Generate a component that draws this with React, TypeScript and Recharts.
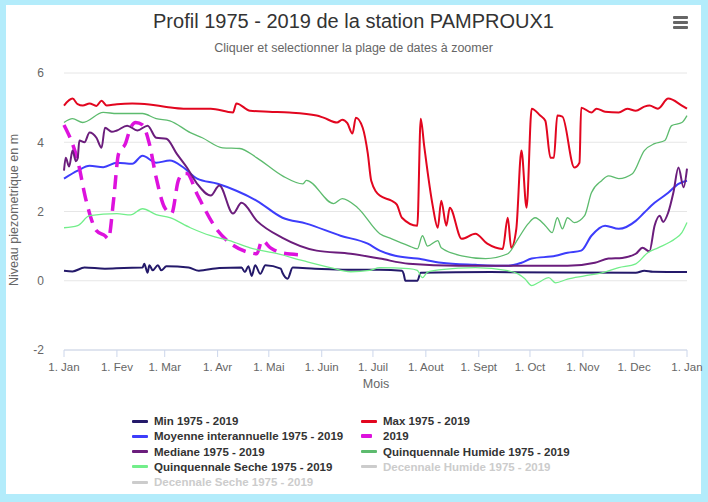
import React from 'react';
import { LineChart, Line, XAxis, YAxis, CartesianGrid } from 'recharts';

// jours depuis le 1er janvier
const monthTicks = [0, 31, 59, 90, 120, 151, 181, 212, 243, 273, 304, 334, 365];
const monthLabels = ['1. Jan', '1. Fev', '1. Mar', '1. Avr', '1. Mai', '1. Juin', '1. Juil', '1. Aout', '1. Sept', '1. Oct', '1. Nov', '1. Dec', '1. Jan'];
const levelTicks = [-2, 0, 2, 4, 6];

const minPts: [number, number][] = [
  [0, 0.29], [5, 0.27], [12, 0.38], [24, 0.35], [35, 0.37], [46, 0.38], [47, 0.49], [49, 0.23], [50, 0.45], [52, 0.3],
  [55, 0.45], [57, 0.3], [60, 0.42], [73, 0.38], [79, 0.29], [91, 0.37], [104, 0.38], [106, 0.25], [108, 0.42], [110, 0.14],
  [112, 0.45], [115, 0.2], [118, 0.45], [127, 0.35], [128, 0.23], [131, 0.06], [134, 0.38], [147, 0.35], [166, 0.32], [185, 0.32],
  [198, 0.29], [199, 0.2], [200, 0.0], [207, 0.0], [209, 0.23], [250, 0.25], [335, 0.23], [340, 0.29], [345, 0.26], [365, 0.25],
];

const maxPts: [number, number][] = [
  [0, 5.06], [5, 5.26], [8, 5.1], [11, 5.06], [15, 5.12], [19, 5.05], [22, 5.2], [25, 5.06], [31, 5.1], [40, 5.12],
  [50, 5.09], [60, 5.02], [70, 4.97], [86, 4.97], [99, 4.86], [101, 5.12], [109, 4.91], [120, 4.88], [132, 4.86], [148, 4.77],
  [152, 4.71], [160, 4.57], [163, 4.65], [166, 4.55], [169, 4.25], [171, 4.71], [175, 4.42], [178, 3.67], [180, 2.89], [185, 2.46],
  [192, 2.31], [195, 2.2], [198, 1.82], [207, 1.59], [209, 4.68], [211, 3.9], [216, 2.17], [219, 1.53], [221, 2.31], [224, 1.59],
  [226, 2.11], [233, 1.21], [241, 1.36], [248, 1.07], [257, 0.92], [260, 1.82], [262, 0.95], [265, 1.5], [268, 3.76], [271, 2.11],
  [274, 4.97], [279, 4.77], [282, 4.62], [285, 3.55], [287, 3.55], [289, 4.77], [292, 4.74], [299, 3.27], [302, 3.41], [303, 5.0],
  [309, 4.86], [312, 4.97], [317, 4.88], [325, 4.86], [330, 4.97], [335, 4.91], [340, 5.03], [343, 5.06], [348, 4.97], [354, 5.26],
  [362, 5.06], [365, 4.97],
];

const moyennePts: [number, number][] = [
  [0, 2.95], [8, 3.18], [15, 3.32], [23, 3.28], [31, 3.41], [40, 3.38], [46, 3.61], [54, 3.41], [62, 3.47], [70, 3.27],
  [78, 2.95], [90, 2.8], [101, 2.6], [113, 2.31], [128, 1.82], [142, 1.65], [162, 1.3], [178, 1.07], [185, 0.87], [194, 0.72],
  [207, 0.64], [221, 0.52], [241, 0.46], [260, 0.43], [268, 0.52], [274, 0.64], [288, 0.72], [295, 0.81], [303, 0.87], [309, 1.3],
  [317, 1.59], [325, 1.5], [335, 1.73], [340, 1.97], [346, 2.25], [354, 2.54], [360, 2.8], [365, 2.89],
];

const pts2019: [number, number][] = [
  [0, 4.5], [8, 3.47], [13, 2.31], [19, 1.45], [24, 1.3], [26, 1.21], [29, 2.31], [32, 3.67], [36, 3.96], [39, 4.42],
  [42, 4.57], [46, 4.5], [50, 3.96], [54, 2.98], [59, 2.11], [63, 1.94], [67, 2.9], [70, 3.1], [72, 3.1], [78, 2.5],
  [90, 1.45], [97, 1.1], [109, 0.81], [113, 0.78], [116, 1.16], [121, 0.95], [127, 0.81], [138, 0.75],
];

const medianePts: [number, number][] = [
  [0, 3.18], [1, 3.55], [3, 3.3], [5, 3.76], [7, 3.45], [8, 3.53], [9, 4.05], [12, 4.0], [15, 4.28], [19, 4.13],
  [22, 3.84], [24, 4.42], [28, 4.3], [31, 4.34], [37, 4.48], [43, 4.34], [49, 4.48], [54, 4.13], [60, 4.1], [66, 3.67],
  [72, 3.27], [78, 2.8], [86, 2.46], [91, 2.75], [99, 1.94], [104, 2.25], [113, 1.73], [128, 1.24], [148, 0.87], [168, 0.78],
  [185, 0.64], [202, 0.49], [231, 0.43], [260, 0.43], [295, 0.43], [311, 0.52], [319, 0.64], [327, 0.66], [335, 0.78], [339, 0.95],
  [343, 0.85], [346, 1.59], [349, 1.88], [351, 1.7], [354, 1.97], [357, 2.54], [360, 3.27], [363, 2.7], [365, 3.24],
];

const quinqHumidePts: [number, number][] = [
  [0, 4.57], [5, 4.68], [11, 4.57], [23, 4.86], [31, 4.83], [46, 4.83], [54, 4.68], [62, 4.62], [74, 4.28], [81, 4.13],
  [93, 3.84], [103, 3.82], [113, 3.55], [128, 3.03], [140, 2.8], [142, 2.9], [158, 2.23], [163, 2.37], [172, 2.11], [185, 1.36],
  [192, 1.21], [202, 1.01], [207, 0.92], [210, 1.3], [213, 1.0], [219, 1.16], [221, 0.95], [233, 0.72], [247, 0.64], [260, 0.78],
  [266, 1.21], [272, 1.65], [276, 1.82], [282, 1.59], [286, 1.39], [289, 1.82], [292, 1.5], [295, 1.82], [299, 1.68], [305, 1.88],
  [309, 2.54], [315, 2.89], [319, 3.03], [325, 2.95], [333, 3.09], [340, 3.76], [346, 3.96], [352, 4.05], [356, 4.48], [362, 4.57],
  [365, 4.77],
];

const quinqSechePts: [number, number][] = [
  [0, 1.53], [8, 1.59], [15, 1.88], [31, 1.94], [39, 1.9], [46, 2.08], [54, 1.91], [62, 1.82], [74, 1.53], [86, 1.3],
  [97, 1.16], [109, 0.95], [125, 0.78], [140, 0.58], [156, 0.38], [168, 0.26], [179, 0.3], [185, 0.38], [202, 0.35], [207, 0.3],
  [210, 0.09], [213, 0.25], [221, 0.32], [241, 0.38], [260, 0.29], [266, 0.2], [270, 0.06], [274, -0.14], [278, -0.05], [284, 0.09],
  [288, -0.06], [295, 0.05], [305, 0.14], [315, 0.23], [325, 0.38], [335, 0.49], [342, 0.81], [348, 0.95], [358, 1.21], [362, 1.39],
  [365, 1.68],
];

const toRows = (pts: [number, number][]) => pts.map(([d, v]) => ({ d, v }));

const FONT = '"Liberation Sans", Arial, sans-serif';

const legendLeft = [
  { name: 'Min 1975 - 2019', color: '#24196a', hidden: false },
  { name: 'Moyenne interannuelle 1975 - 2019', color: '#3d3dfb', hidden: false },
  { name: 'Mediane 1975 - 2019', color: '#6b1d7c', hidden: false },
  { name: 'Quinquennale Seche 1975 - 2019', color: '#72ee8a', hidden: false },
  { name: 'Decennale Seche 1975 - 2019', color: '#cccccc', hidden: true },
];
const legendRight = [
  { name: 'Max 1975 - 2019', color: '#e2061f', hidden: false },
  { name: '2019', color: '#dd12dd', hidden: false },
  { name: 'Quinquennale Humide 1975 - 2019', color: '#5dbb6e', hidden: false },
  { name: 'Decennale Humide 1975 - 2019', color: '#cccccc', hidden: true },
];

const LegendItem = ({ item, x, y, dash }: { item: any; x: number; y: number; dash?: boolean }) => (
  <div style={{ position: 'absolute', left: x, top: y - 8, height: 16, display: 'flex', alignItems: 'center', whiteSpace: 'nowrap' }}>
    <div style={{ width: dash ? 11 : 16, height: dash ? 4 : 3, background: item.color, marginRight: dash ? 11 : 6, borderRadius: 1 }} />
    <span style={{ fontFamily: FONT, fontSize: 11.5, fontWeight: 'bold', color: item.hidden ? '#cccccc' : '#333333' }}>{item.name}</span>
  </div>
);

const App: React.FC = () => {
  return (
    <div style={{ position: 'absolute', left: 0, top: 0, width: 708, height: 502, background: '#b3ecfb' }}>
      <div style={{ position: 'absolute', left: 6, top: 5, width: 695, height: 489, background: '#ffffff' }} />
      <div style={{ position: 'absolute', left: 6, top: 5, width: 702, height: 489 }}>
        <LineChart width={702} height={489} margin={{ top: 68, right: 21, bottom: 114, left: 0 }}>
          <CartesianGrid vertical={false} stroke="#e6e6e6" />
          <XAxis
            type="number"
            dataKey="d"
            domain={[0, 365]}
            ticks={monthTicks}
            tickFormatter={(v: number) => monthLabels[monthTicks.indexOf(v)]}
            interval={0}
            height={30}
            axisLine={{ stroke: '#ccd6eb' }}
            tickLine={{ stroke: '#ccd6eb' }}
            tickSize={7}
            tickMargin={6}
            tick={{ fill: '#666666', fontSize: 11.5, fontFamily: FONT }}
          />
          <YAxis
            type="number"
            domain={[-2, 6]}
            ticks={levelTicks}
            width={58}
            axisLine={false}
            tickLine={false}
            tickSize={0}
            tickMargin={20}
            tick={{ fill: '#666666', fontSize: 12, fontFamily: FONT }}
          />
          <Line data={toRows(minPts)} dataKey="v" type="monotone" stroke="#24196a" strokeWidth={2} dot={false} activeDot={false} isAnimationActive={false} />
          <Line data={toRows(maxPts)} dataKey="v" type="monotone" stroke="#e2061f" strokeWidth={2} dot={false} activeDot={false} isAnimationActive={false} />
          <Line data={toRows(moyennePts)} dataKey="v" type="monotone" stroke="#3d3dfb" strokeWidth={2} dot={false} activeDot={false} isAnimationActive={false} />
          <Line data={toRows(pts2019)} dataKey="v" type="monotone" stroke="#dd12dd" strokeWidth={3.5} strokeDasharray="14 8" dot={false} activeDot={false} isAnimationActive={false} />
          <Line data={toRows(medianePts)} dataKey="v" type="monotone" stroke="#6b1d7c" strokeWidth={2} dot={false} activeDot={false} isAnimationActive={false} />
          <Line data={toRows(quinqHumidePts)} dataKey="v" type="monotone" stroke="#5dbb6e" strokeWidth={1.3} dot={false} activeDot={false} isAnimationActive={false} />
          <Line data={toRows(quinqSechePts)} dataKey="v" type="monotone" stroke="#72ee8a" strokeWidth={1.3} dot={false} activeDot={false} isAnimationActive={false} />
        </LineChart>

        <div style={{ position: 'absolute', left: 0, top: 5, width: 695, textAlign: 'center', fontFamily: FONT, fontSize: 20, color: '#333333' }}>
          Profil 1975 - 2019 de la station PAMPROUX1
        </div>
        <div style={{ position: 'absolute', left: 0, top: 36, width: 695, textAlign: 'center', fontFamily: FONT, fontSize: 12.5, color: '#666666' }}>
          Cliquer et selectionner la plage de dates à zoomer
        </div>
        {/* menu */}
        <div style={{ position: 'absolute', left: 667, top: 11 }}>
          {[0, 5, 10].map((t) => (
            <div key={t} style={{ position: 'absolute', left: 0, top: t, width: 15, height: 3, background: '#666666', borderRadius: 1 }} />
          ))}
        </div>
        <div
          style={{
            position: 'absolute', left: 8, top: 206, width: 0, height: 0, fontFamily: FONT, fontSize: 12.5, color: '#666666',
          }}
        >
          <div style={{ position: 'absolute', left: -80, top: -8, width: 160, textAlign: 'center', transform: 'rotate(-90deg)', whiteSpace: 'nowrap' }}>
            Niveau piezometrique en m
          </div>
        </div>
        <div style={{ position: 'absolute', left: 0, top: 372, width: 740, textAlign: 'center', fontFamily: FONT, fontSize: 12.5, color: '#666666' }}>
          Mois
        </div>

        {legendLeft.map((it, i) => (
          <LegendItem key={it.name} item={it} x={126} y={416 + i * 15.3} />
        ))}
        {legendRight.map((it, i) => (
          <LegendItem key={it.name} item={it} x={355} y={416 + i * 15.3} dash={it.name === '2019'} />
        ))}
      </div>
    </div>
  );
};

export default App;
